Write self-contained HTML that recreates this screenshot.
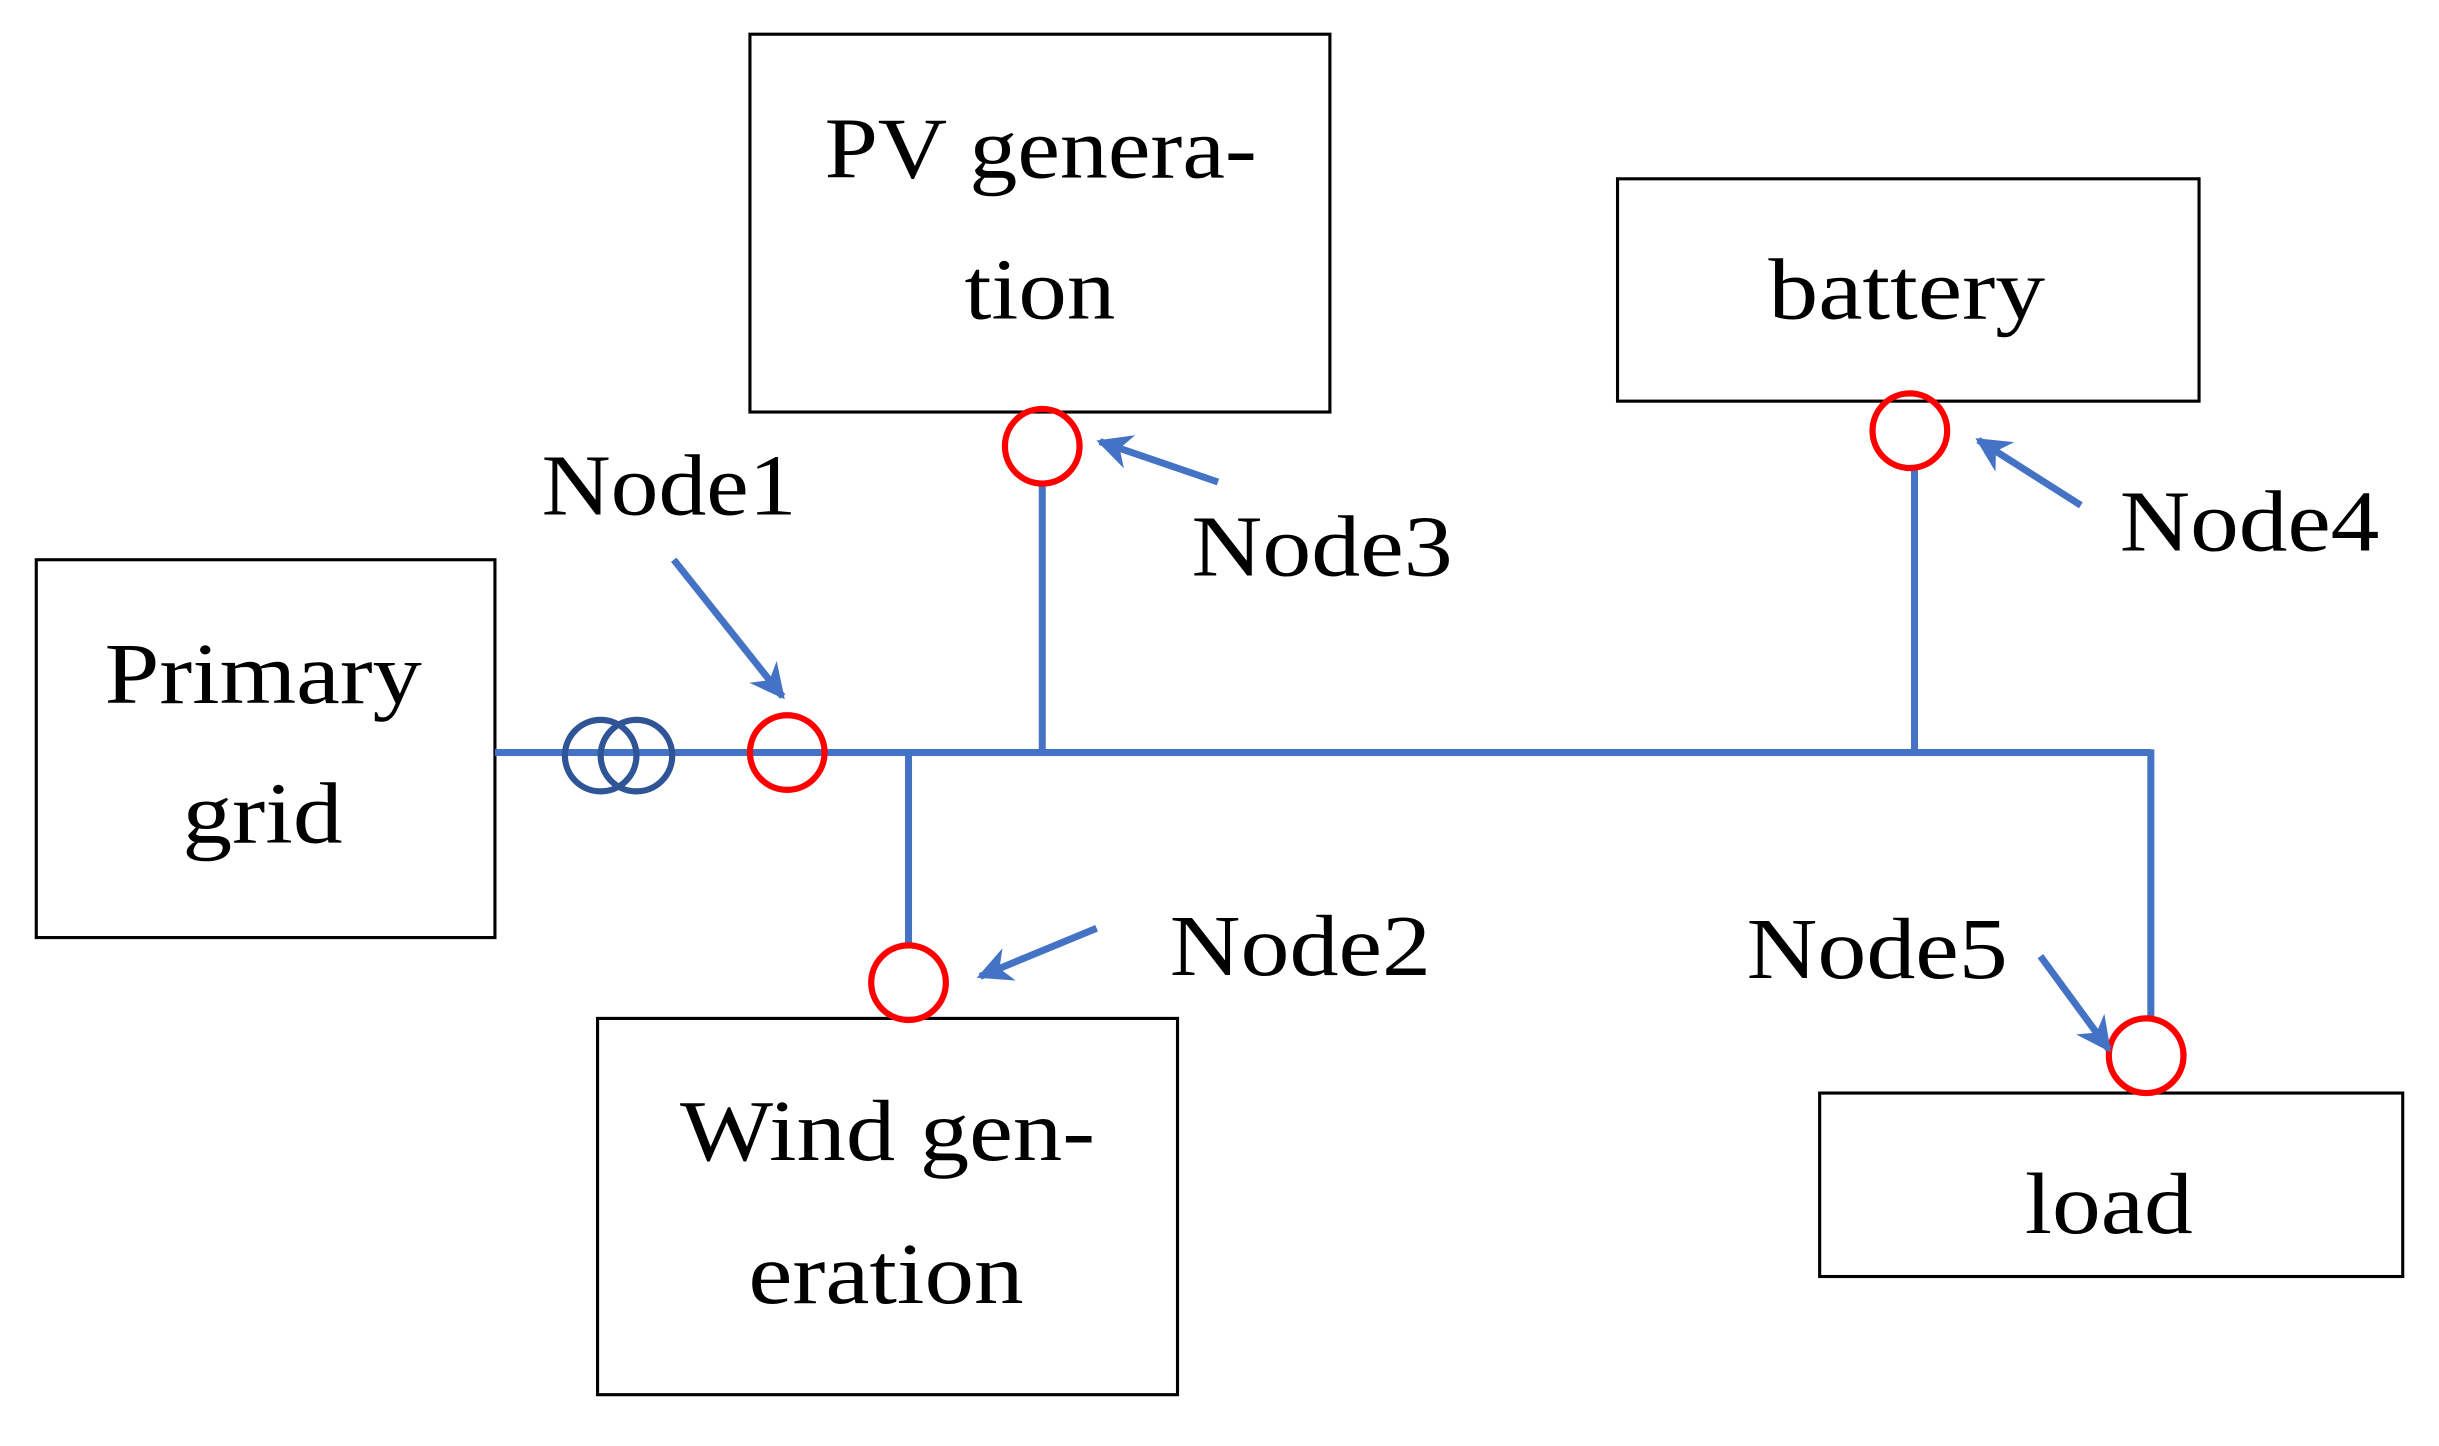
<!DOCTYPE html>
<html><head><meta charset="utf-8"><style>
html,body{margin:0;padding:0;background:#fff;}
svg{display:block;}
text{font-family:"Liberation Serif",serif;font-size:56px;fill:#000;}
</style></head><body>
<svg width="2439" height="1446" viewBox="0 0 1568 930" xmlns="http://www.w3.org/2000/svg">
<defs>
<marker id="ah" viewBox="0 0 10 10" refX="9" refY="5" markerWidth="5" markerHeight="5" orient="auto-start-reverse">
<path d="M0,0 L10,5 L0,10 L3,5 z" fill="#4472c4"/>
</marker>
</defs>
<g fill="none" stroke="#000" stroke-width="2">
<rect x="23" y="360" width="295" height="243"/>
<rect x="482" y="22" width="373" height="243"/>
<rect x="1040" y="115" width="374" height="143"/>
<rect x="384" y="655" width="373" height="242"/>
<rect x="1170" y="703" width="375" height="118"/>
</g>
<g stroke="#4472c4" stroke-width="4.5" fill="none">
<line x1="318" y1="484" x2="1383" y2="484"/>
<line x1="584" y1="484" x2="584" y2="608"/>
<line x1="670" y1="311" x2="670" y2="484"/>
<line x1="1231" y1="301" x2="1231" y2="484"/>
<line x1="1383" y1="482" x2="1383" y2="655"/>
</g>
<g stroke="#2f5597" stroke-width="4" fill="none">
<circle cx="386" cy="486" r="23"/>
<circle cx="409" cy="486" r="23"/>
</g>
<g stroke="#ff0000" stroke-width="4" fill="none">
<circle cx="506" cy="484" r="24"/>
<circle cx="670" cy="287" r="24"/>
<circle cx="1228" cy="277" r="24"/>
<circle cx="584" cy="632" r="24"/>
<circle cx="1380" cy="679" r="24"/>
</g>
<g stroke="#4472c4" stroke-width="4.5" fill="none" marker-end="url(#ah)">
<line x1="433" y1="360" x2="503" y2="448"/>
<line x1="783" y1="310" x2="707" y2="284"/>
<line x1="1338" y1="325" x2="1272" y2="283"/>
<line x1="705" y1="597" x2="630" y2="628"/>
<line x1="1312" y1="615" x2="1356" y2="675"/>
</g>
<g lengthAdjust="spacingAndGlyphs">
<text x="67" y="452" textLength="204" lengthAdjust="spacingAndGlyphs">Primary</text>
<text x="117" y="542" textLength="103" lengthAdjust="spacingAndGlyphs">grid</text>
<text x="530" y="114" textLength="278" lengthAdjust="spacingAndGlyphs">PV genera-</text>
<text x="620" y="205" textLength="97" lengthAdjust="spacingAndGlyphs">tion</text>
<text x="1137" y="205" textLength="178" lengthAdjust="spacingAndGlyphs">battery</text>
<text x="437" y="746" textLength="267" lengthAdjust="spacingAndGlyphs">Wind gen-</text>
<text x="481" y="838" textLength="177" lengthAdjust="spacingAndGlyphs">eration</text>
<text x="1302" y="793" textLength="108" lengthAdjust="spacingAndGlyphs">load</text>
<text x="348" y="331" textLength="164" lengthAdjust="spacingAndGlyphs">Node1</text>
<text x="766" y="370" textLength="168" lengthAdjust="spacingAndGlyphs">Node3</text>
<text x="1363" y="354" textLength="167" lengthAdjust="spacingAndGlyphs">Node4</text>
<text x="752" y="627" textLength="168" lengthAdjust="spacingAndGlyphs">Node2</text>
<text x="1123" y="629" textLength="168" lengthAdjust="spacingAndGlyphs">Node5</text>
</g>
</svg>
</body></html>
